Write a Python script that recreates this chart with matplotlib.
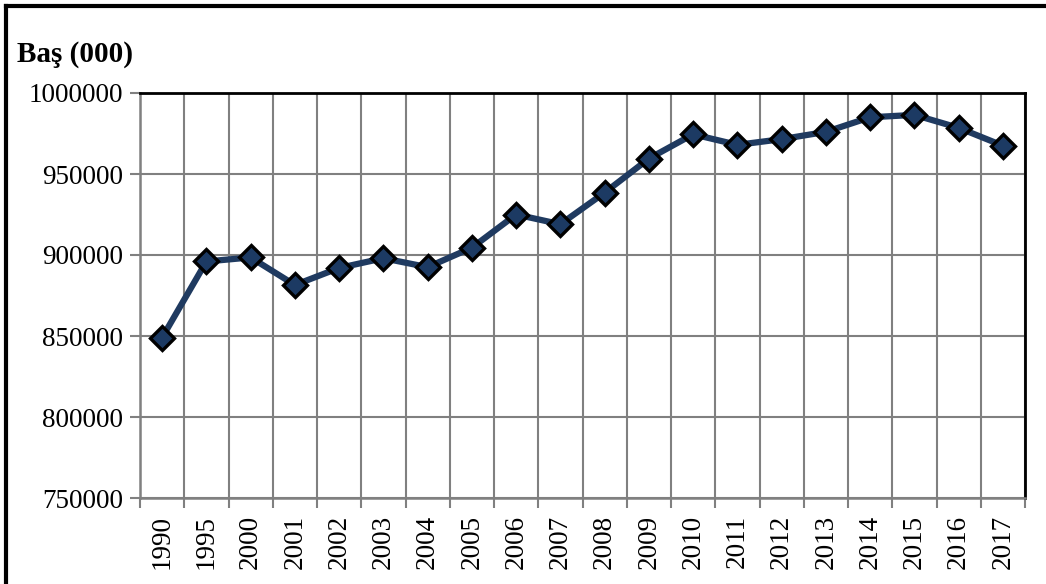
import matplotlib
matplotlib.use("Agg")
import matplotlib.pyplot as plt
import numpy as np
from matplotlib.lines import Line2D

years = ["1990", "1995", "2000", "2001", "2002", "2003", "2004", "2005", "2006", "2007",
         "2008", "2009", "2010", "2011", "2012", "2013", "2014", "2015", "2016", "2017"]
heads = [849000, 896000, 898500, 881500, 892000, 898000, 892500, 904500, 925000, 919000,
         938500, 959500, 974500, 968000, 971500, 976000, 985000, 986500, 978500, 967500]
yticks = [750000, 800000, 850000, 900000, 950000, 1000000]

plt.rcParams['font.family'] = ['Liberation Serif', 'DejaVu Serif']

fig = plt.figure(figsize=(10.46, 5.84), dpi=100)
ax = fig.add_axes([140/1046, 1-498/584, (1025-140)/1046, (498-93)/584])

x = np.arange(len(years))
ax.plot(x, heads, color='#1f3a60', lw=4.5, marker='D', ms=12.5,
        mfc='#1c3a63', mec='black', mew=2.4, zorder=3, clip_on=False)

ax.set_xlim(-0.5, len(years) - 0.5)
ax.set_ylim(yticks[0], yticks[-1])
ax.set_yticks(yticks)
ax.set_yticklabels([str(v) for v in yticks], fontsize=19.5)
ax.set_xticks(x)
ax.set_xticklabels(years, rotation=90, fontsize=19.5)
ax.set_xticks(np.arange(-0.5, len(years)), minor=True)
ax.tick_params(axis='x', which='major', length=0, pad=12)
ax.tick_params(axis='x', which='minor', length=7, width=1.5, color='#808080')
ax.tick_params(axis='y', length=7, width=1.5, color='#808080', pad=5)

ax.grid(True, axis='y', which='major', color='#808080', lw=1.5)
ax.grid(True, axis='x', which='minor', color='#808080', lw=1.5)
ax.set_axisbelow(True)

for s in ['left', 'bottom']:
    ax.spines[s].set_color('#808080')
    ax.spines[s].set_linewidth(1.8)
for s in ['top', 'right']:
    ax.spines[s].set_color('black')
    ax.spines[s].set_linewidth(2)

fig.text(17/1046, 1-54/584, "Baş (000)", fontsize=21, fontweight='bold', va='center')

# outer frame (top and left edges visible)
fig.add_artist(Line2D([6/1046, 1], [1-6/584, 1-6/584], color='black', lw=3, transform=fig.transFigure))
fig.add_artist(Line2D([6/1046, 6/1046], [0, 1-6/584], color='black', lw=3, transform=fig.transFigure))

fig.savefig("out.png", dpi=100)
